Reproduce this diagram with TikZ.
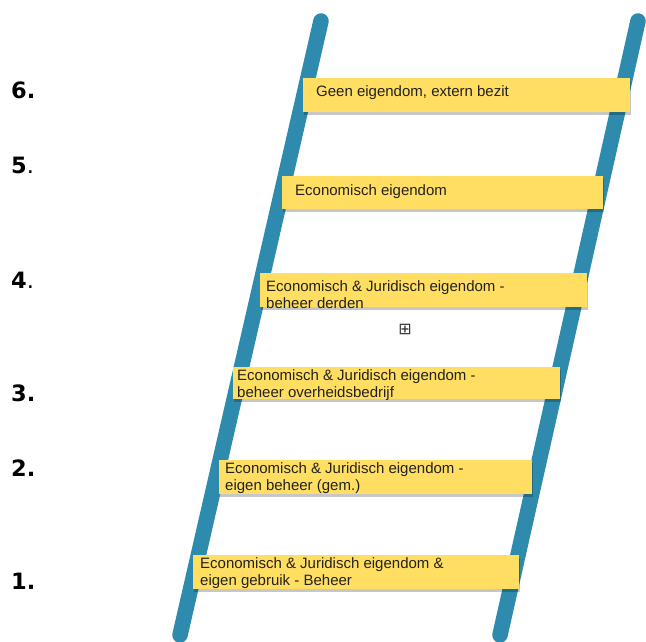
\documentclass[tikz,border=0pt]{standalone}
\usepackage{fontspec}
\setmainfont{Liberation Sans}
\newfontfamily\numfont{DejaVu Sans}
\newfontfamily\symfont{DejaVu Sans}
\usetikzlibrary{shadows}
\definecolor{railblue}{RGB}{46,139,173}
\definecolor{boxyellow}{RGB}{255,222,98}
\definecolor{txtgrey}{RGB}{34,34,34}
\tikzset{
  rail/.style={draw=railblue, line width=15.5pt, line cap=round},
  stepbox/.style={fill=boxyellow, draw=none, inner sep=0pt, anchor=north west,
    drop shadow={shadow xshift=1pt, shadow yshift=-2.5pt, opacity=0.22, fill=black}},
  steptext/.style={anchor=base west, inner sep=0pt, text=txtgrey,
    font=\fontsize{15}{17}\selectfont},
  numlabel/.style={anchor=base west, inner sep=0pt, text=black,
    font=\numfont\fontsize{22.5}{26}\selectfont}
}
\newcommand{\twoline}[2]{\begin{tabular}[t]{@{}l@{}}#1\\#2\end{tabular}}
\begin{document}
\begin{tikzpicture}[x=1pt,y=-1pt]
\useasboundingbox (0,0) rectangle (646,642);
% rails
\coordinate (lt) at (321,21);
\coordinate (lb) at (180,635);
\coordinate (rt) at (638,21);
\coordinate (rb) at (500,635);
\draw[rail] (lt) -- (lb);
\draw[rail] (rt) -- (rb);
% boxes
\node[stepbox, minimum width=327pt, minimum height=34pt] (b6) at (303,78) {};
\node[stepbox, minimum width=321pt, minimum height=33pt] (b5) at (282,176) {};
\node[stepbox, minimum width=327pt, minimum height=34pt] (b4) at (260,273) {};
\node[stepbox, minimum width=327pt, minimum height=32pt] (b3) at (233,367) {};
\node[stepbox, minimum width=313pt, minimum height=34pt] (b2) at (219,460) {};
\node[stepbox, minimum width=326pt, minimum height=34pt] (b1) at (193,555) {};
% texts
\node[steptext] (t6) at (316,97) {Geen eigendom, extern bezit};
\node[steptext] (t5) at (295,195) {Economisch eigendom};
\node[steptext] (t4) at (266,291) {\twoline{Economisch \& Juridisch eigendom -}{beheer derden}};
\node[steptext] (t3) at (237,380) {\twoline{Economisch \& Juridisch eigendom -}{beheer overheidsbedrijf}};
\node[steptext] (t2) at (225,473) {\twoline{Economisch \& Juridisch eigendom -}{eigen beheer (gem.)}};
\node[steptext] (t1) at (200,568) {\twoline{Economisch \& Juridisch eigendom \&}{eigen gebruik - Beheer}};
% numbers
\node[numlabel] (n6) at (11,99) {\bfseries 6.};
\node[numlabel] (n5) at (11,173) {\textbf{5}.};
\node[numlabel] (n4) at (11,288) {\textbf{4}.};
\node[numlabel] (n3) at (11,401) {\bfseries 3.};
\node[numlabel] (n2) at (11,476) {\bfseries 2.};
\node[numlabel] (n1) at (11,589) {\bfseries 1.};
% small symbol
\node[inner sep=0pt, text=black!80, font=\symfont\fontsize{16}{16}\selectfont] (sym) at (405,329) {⊞};
\end{tikzpicture}
\end{document}
